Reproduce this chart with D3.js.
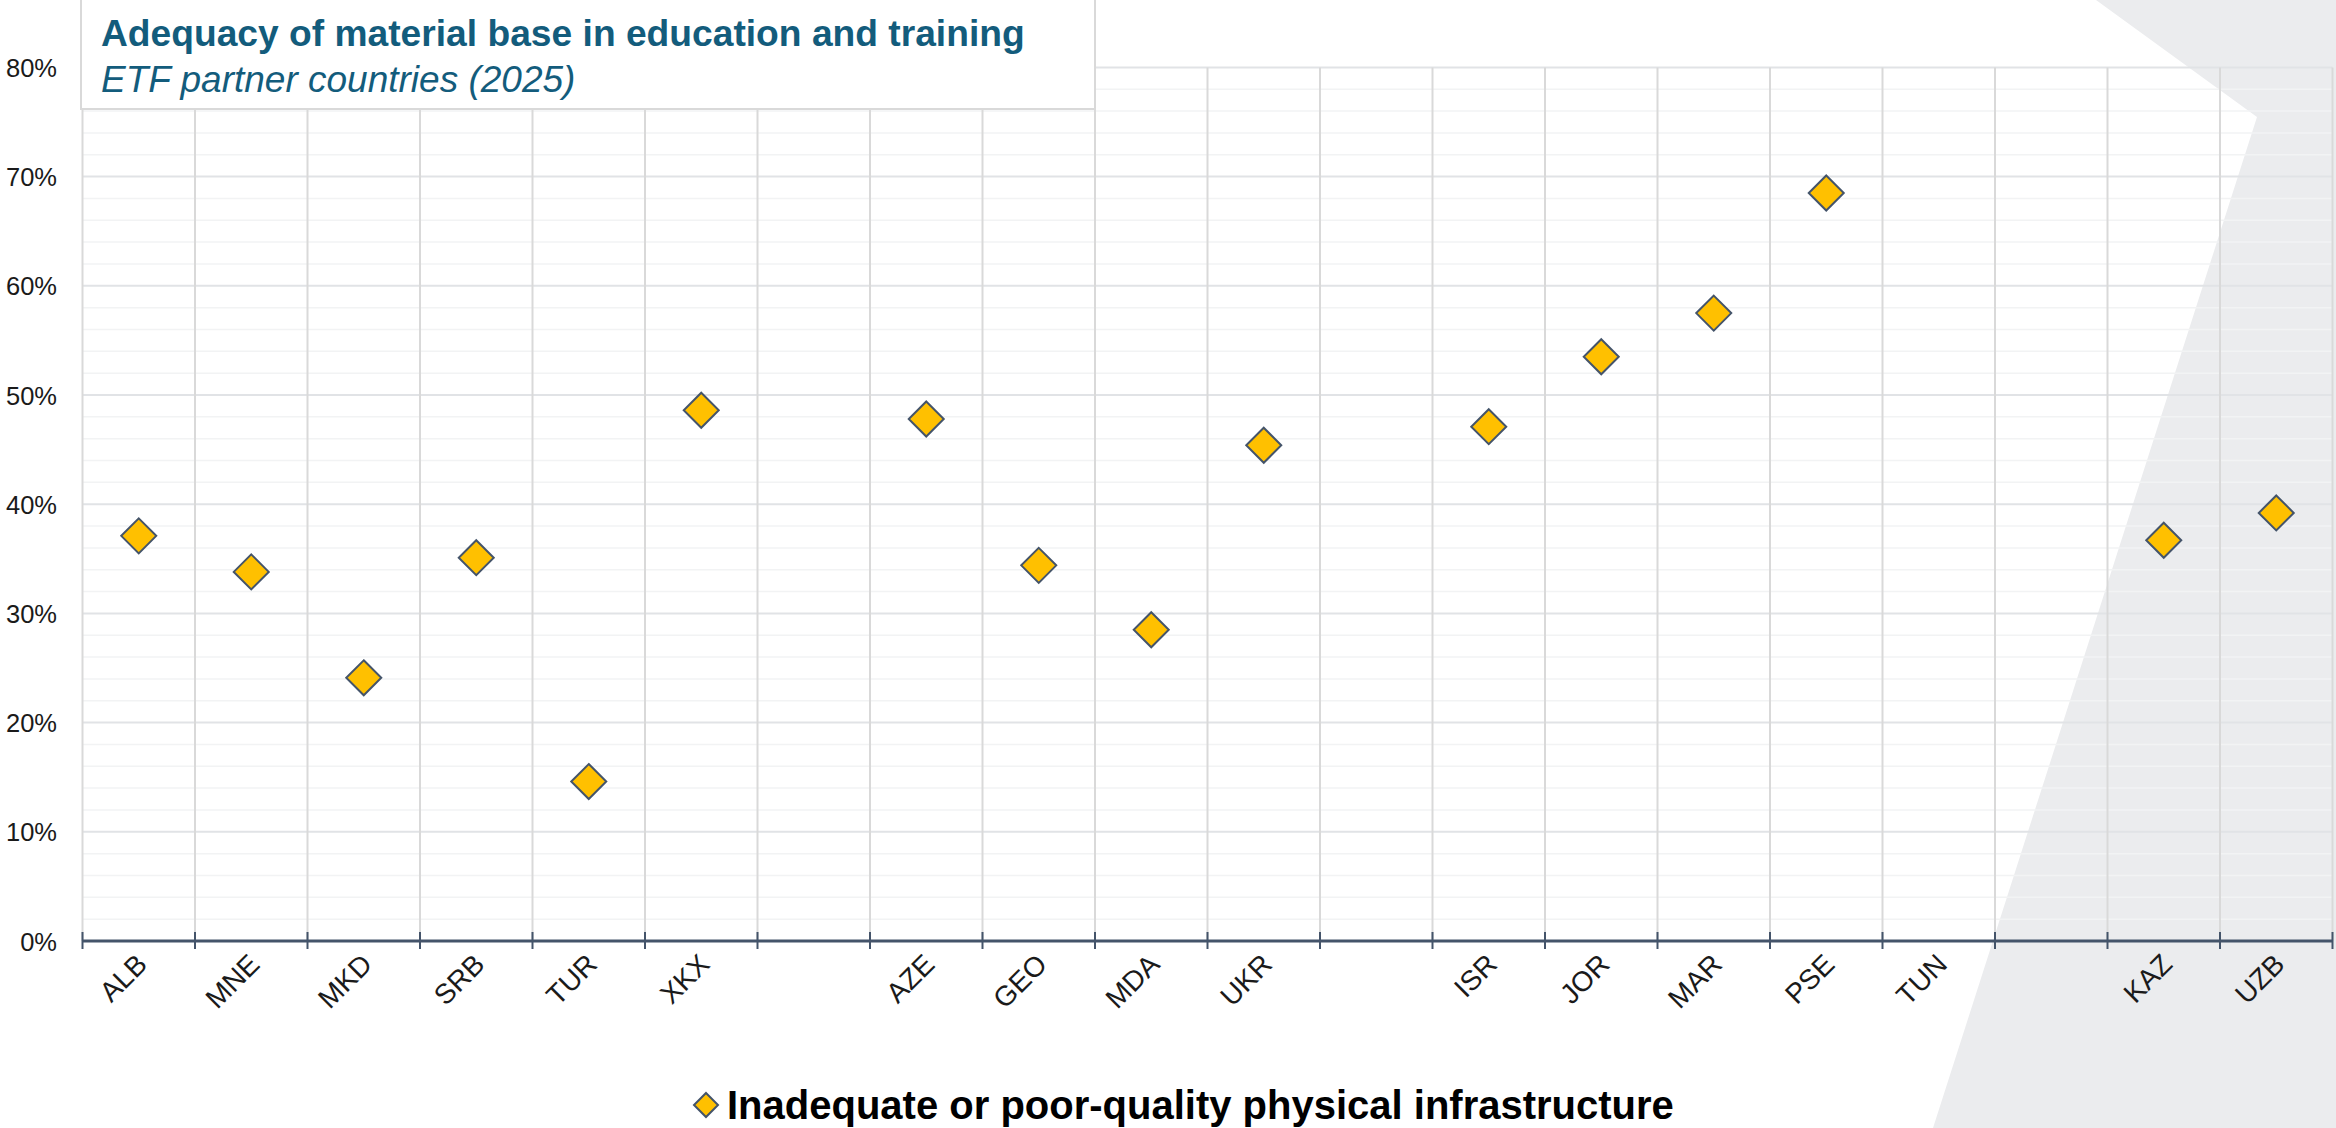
<!DOCTYPE html>
<html>
<head>
<meta charset="utf-8">
<script src="https://cdn.jsdelivr.net/npm/d3@7"></script>
<style>
  html, body { margin: 0; padding: 0; background: #ffffff; }
  svg { display: block; font-family: "Liberation Sans", Arial, sans-serif; }
</style>
</head>
<body>
<svg id="chart" width="2336" height="1128"></svg>
<script>
// Country codes along the x axis; empty strings separate the regional groups
const countries = ["ALB", "MNE", "MKD", "SRB", "TUR", "XKX", "",
                   "AZE", "GEO", "MDA", "UKR", "",
                   "ISR", "JOR", "MAR", "PSE", "TUN", "",
                   "KAZ", "UZB"];

// Share reporting inadequate or poor-quality physical infrastructure (%)
const infrastructure = [37.1, 33.8, 24.1, 35.1, 14.6, 48.6, null,
                        47.8, 34.4, 28.5, 45.4, null,
                        47.1, 53.5, 57.5, 68.5, null, null,
                        36.7, 39.2];

const yMajorTicks = [0, 10, 20, 30, 40, 50, 60, 70, 80];
const yMinorTicks = d3.range(0, 81, 2);

const titleText = "Adequacy of material base in education and training";
const subtitleText = "ETF partner countries (2025)";
const legendText = "Inadequate or poor-quality physical infrastructure";

const W = 2336, H = 1128;
const plot = { left: 82.5, right: 2332.5, top: 67.4, bottom: 941 };

const svg = d3.select("#chart");

const x = d3.scaleBand()
  .domain(d3.range(countries.length))
  .range([plot.left, plot.right])
  .paddingInner(0).paddingOuter(0);

const y = d3.scaleLinear().domain([0, 80]).range([plot.bottom, plot.top]);

// Grey decorative backdrop on the right
svg.append("path")
  .attr("d", d3.line()([[2096, 0], [W, 0], [W, H], [1933, H], [2257, 117]]) + "Z")
  .attr("fill", "#ebecee");

// Horizontal gridlines: minor every 2%, major every 10%
const grid = svg.append("g");
grid.selectAll("line.minor")
  .data(yMinorTicks.filter(d => d % 10 !== 0))
  .join("line")
  .attr("class", "minor")
  .attr("x1", plot.left).attr("x2", plot.right)
  .attr("y1", d => y(d)).attr("y2", d => y(d))
  .attr("stroke", "#f2f3f4").attr("stroke-width", 1.5);

grid.selectAll("line.major")
  .data(yMajorTicks.filter(d => d > 0))
  .join("line")
  .attr("class", "major")
  .attr("x1", plot.left).attr("x2", plot.right)
  .attr("y1", d => y(d)).attr("y2", d => y(d))
  .attr("stroke", "#e1e3e6").attr("stroke-width", 2);

// Vertical gridlines at every category boundary
const boundaries = d3.range(countries.length).map(i => x(i)).concat([x.range()[1]]);
grid.selectAll("line.vert")
  .data(boundaries)
  .join("line")
  .attr("class", "vert")
  .attr("x1", d => d).attr("x2", d => d)
  .attr("y1", plot.top).attr("y2", plot.bottom)
  .attr("stroke", "#d9d9d9").attr("stroke-width", 2);

// Y axis labels
const yAxis = d3.axisLeft(y)
  .tickValues(yMajorTicks)
  .tickFormat(d => d + "%")
  .tickSize(0)
  .tickPadding(0);
const yg = svg.append("g")
  .attr("transform", `translate(57,0)`)
  .call(yAxis);
yg.select(".domain").remove();
yg.selectAll("text")
  .attr("font-family", "'Liberation Sans', Arial, sans-serif")
  .attr("font-size", 25.5)
  .attr("fill", "#1a1a1a")
  .attr("dy", "0.36em");

// X axis baseline with boundary ticks
const axisG = svg.append("g");
axisG.append("line")
  .attr("x1", plot.left).attr("x2", plot.right)
  .attr("y1", plot.bottom).attr("y2", plot.bottom)
  .attr("stroke", "#44546a").attr("stroke-width", 3);
axisG.selectAll("line.tick")
  .data(boundaries)
  .join("line")
  .attr("class", "tick")
  .attr("x1", d => d).attr("x2", d => d)
  .attr("y1", plot.bottom - 9).attr("y2", plot.bottom + 8)
  .attr("stroke", "#44546a").attr("stroke-width", 2);

// Category labels, rotated
const xAxis = d3.axisBottom(x)
  .tickFormat(i => countries[i])
  .tickSize(0)
  .tickPadding(0);
const xg = svg.append("g")
  .attr("transform", `translate(0,${plot.bottom})`)
  .call(xAxis);
xg.select(".domain").remove();
xg.selectAll("text")
  .attr("font-family", "'Liberation Sans', Arial, sans-serif")
  .attr("font-size", 28)
  .attr("fill", "#1a1a1a")
  .attr("text-anchor", "end")
  .attr("dy", null)
  .attr("y", 0)
  .attr("transform", "translate(10,25) rotate(-45)");

// Diamond markers
function diamondPath(r) {
  return `M0,${-r}L${r},0L0,${r}L${-r},0Z`;
}
svg.append("g")
  .selectAll("path")
  .data(infrastructure.map((v, i) => ({ i, v })).filter(d => d.v != null))
  .join("path")
  .attr("transform", d => `translate(${x(d.i) + x.bandwidth() / 2},${y(d.v)})`)
  .attr("d", diamondPath(17.5))
  .attr("fill", "#ffc000")
  .attr("stroke", "#44546a")
  .attr("stroke-width", 2)
  .attr("stroke-linejoin", "miter");

// Title box
svg.append("rect")
  .attr("x", 81).attr("y", -1)
  .attr("width", 1014).attr("height", 110)
  .attr("fill", "#ffffff")
  .attr("stroke", "#d9d9d9").attr("stroke-width", 2);
svg.append("text")
  .attr("x", 101).attr("y", 46)
  .attr("font-size", 37.2).attr("font-weight", "bold")
  .attr("fill", "#135c7c")
  .text(titleText);
svg.append("text")
  .attr("x", 101).attr("y", 92)
  .attr("font-size", 37).attr("font-style", "italic")
  .attr("fill", "#135c7c")
  .text(subtitleText);

// Legend
const legend = svg.append("g").attr("transform", "translate(706,1105)");
legend.append("path")
  .attr("d", diamondPath(12))
  .attr("fill", "#ffc000")
  .attr("stroke", "#44546a")
  .attr("stroke-width", 2);
legend.append("text")
  .attr("x", 21).attr("y", 14)
  .attr("font-size", 40).attr("font-weight", "bold")
  .attr("fill", "#000000")
  .text(legendText);
</script>
</body>
</html>
